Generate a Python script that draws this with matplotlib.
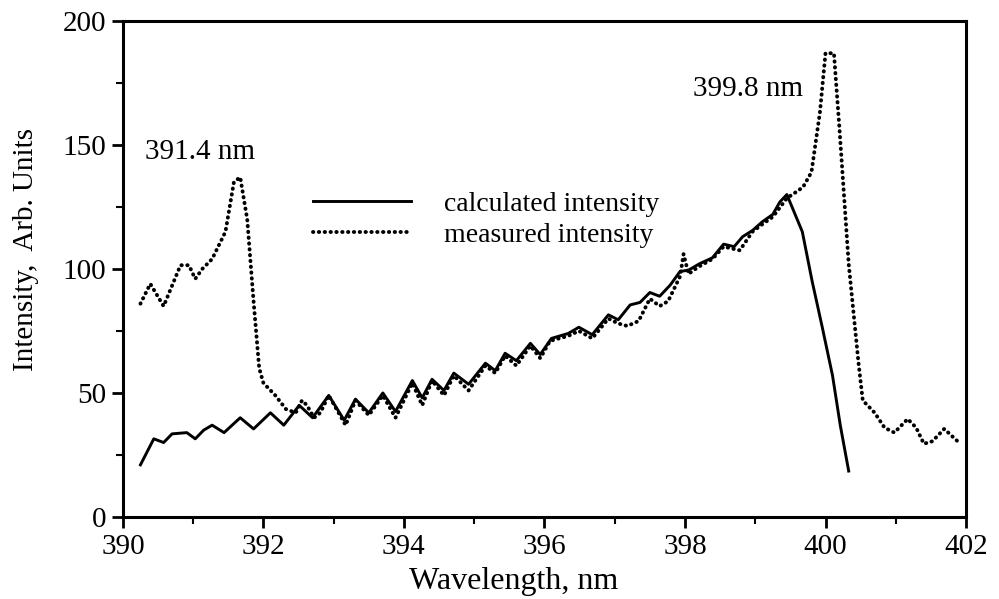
import matplotlib
matplotlib.use("Agg")
import matplotlib.pyplot as plt
from matplotlib.ticker import MultipleLocator

plt.rcParams['font.family'] = ['Liberation Serif', 'DejaVu Serif']

calc_x = [390.25, 390.44, 390.58, 390.70, 390.91, 391.03, 391.15, 391.27, 391.44, 391.67,
          391.86, 392.10, 392.29, 392.51, 392.70, 392.93, 393.15, 393.31, 393.50, 393.70,
          393.88, 394.12, 394.26, 394.40, 394.57, 394.71, 394.92, 395.16, 395.30, 395.44,
          395.60, 395.80, 395.94, 396.10, 396.34, 396.49, 396.68, 396.91, 397.05, 397.22,
          397.36, 397.50, 397.64, 397.79, 397.93, 398.05, 398.20, 398.39, 398.55, 398.70,
          398.82, 398.96, 399.10, 399.25, 399.35, 399.45, 399.67, 399.81, 399.95, 400.10,
          400.21, 400.33]
calc_y = [21, 31.5, 30, 33.5, 34, 31.5, 35, 37, 34, 40,
          35.5, 42, 37, 45, 40, 49, 39, 47.5, 42, 50,
          42.5, 55, 48, 55.5, 51, 58, 53.5, 62, 59, 66,
          63, 70, 65.5, 72, 74, 76.5, 73.5, 81.5, 79.5, 85.5,
          86.5, 90.5, 89, 93.5, 99, 99.5, 102, 104.5, 110, 109,
          113, 115.5, 119, 122, 127, 130, 115, 95, 77, 57,
          37, 18.5]

meas_x = [390.25, 390.39, 390.58, 390.82, 390.94, 391.03, 391.13, 391.27, 391.46, 391.58,
          391.67, 391.77, 391.86, 391.94, 392.00, 392.17, 392.32, 392.46, 392.55, 392.62,
          392.72, 392.81, 392.93, 393.17, 393.31, 393.50, 393.70, 393.88, 394.12, 394.26,
          394.40, 394.57, 394.71, 394.92, 395.16, 395.30, 395.44, 395.60, 395.80, 395.94,
          396.08, 396.34, 396.49, 396.68, 396.91, 397.05, 397.18, 397.34, 397.50, 397.64,
          397.76, 397.93, 397.98, 398.05, 398.20, 398.39, 398.55, 398.78, 398.96, 399.10,
          399.25, 399.45, 399.58, 399.68, 399.80, 399.92, 400.00, 400.12, 400.20, 400.33,
          400.47, 400.53, 400.70, 400.84, 400.98, 401.17, 401.29, 401.40, 401.52, 401.69,
          401.88]
meas_y = [86, 94, 85, 101.5, 101.5, 96, 100, 104, 115, 135,
          137, 120, 87, 60, 54, 49, 43.5, 42, 47, 45,
          40, 42, 49, 37, 47, 41, 49, 40, 54, 45,
          55, 49, 57, 51, 61, 58, 65, 61, 69, 64,
          71, 73, 75, 72, 80, 78, 77, 79, 88, 85,
          87, 97, 106, 98, 101, 104, 109, 107.5, 115, 118,
          121, 128.5, 131, 133, 139, 163, 187, 187, 156, 102,
          62, 47, 42, 36, 34, 39.5, 36, 29.5, 30.5, 35.5,
          30.5]

series_labels = ["calculated intensity", "measured intensity"]
peak_labels = ["391.4 nm", "399.8 nm"]
peak_label_pos = [(391.1, 147), (398.89, 172.5)]

fig = plt.figure(figsize=(9.99, 5.99), dpi=100)
ax = fig.add_axes([0.123, 0.137, 0.844, 0.828])

ax.plot(calc_x, calc_y, color='black', lw=2.1, solid_joinstyle='round',
        label=series_labels[0])
ax.plot(meas_x, meas_y, color='black', lw=2.8, linestyle=(0, (0.1, 1.4)),
        dash_capstyle='round', label=series_labels[1])

for lab, (px, py) in zip(peak_labels, peak_label_pos):
    ax.text(px, py, lab, fontsize=21, ha='center', va='center')

ax.set_xlim(390, 402)
ax.set_ylim(0, 200)
ax.xaxis.set_major_locator(MultipleLocator(2))
ax.xaxis.set_minor_locator(MultipleLocator(1))
ax.yaxis.set_major_locator(MultipleLocator(50))
ax.yaxis.set_minor_locator(MultipleLocator(25))
ax.tick_params(which='major', direction='out', length=8, width=2, labelsize=21, pad=4)
ax.tick_params(which='minor', direction='out', length=5, width=1.5)
for s in ax.spines.values():
    s.set_linewidth(2.2)

ax.set_xlabel("Wavelength, nm", fontsize=23)
ax.xaxis.set_label_coords(0.464, -0.1)
ax.set_ylabel("Intensity,  Arb. Units", fontsize=21)
ax.yaxis.set_label_coords(-0.1, 0.54)

leg = ax.legend(loc='upper left', bbox_to_anchor=(0.226, 0.656), frameon=False,
                fontsize=20, handlelength=3.5, handletextpad=1.2, labelspacing=0.2,
                borderaxespad=0, borderpad=0)

fig.savefig("out.png", dpi=100)
